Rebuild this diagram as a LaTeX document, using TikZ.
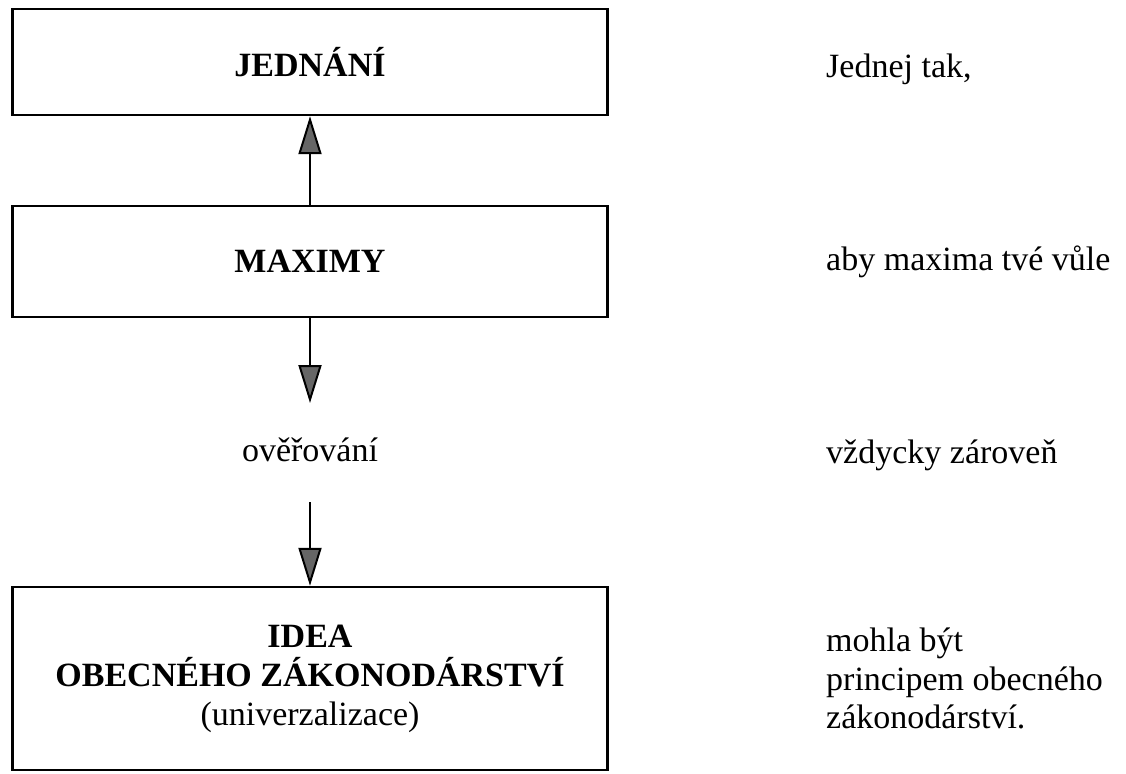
\documentclass[tikz,border=0pt]{standalone}
\usepackage{fontspec}
\setmainfont{Liberation Serif}
\usetikzlibrary{arrows.meta}
\begin{document}
\begin{tikzpicture}[x=1pt,y=-1pt,
    box/.style={draw, line width=2.4pt, minimum width=595pt, inner sep=0pt, align=center, font=\fontsize{34}{39}\selectfont\bfseries},
    txt/.style={anchor=base west, inner sep=0pt, align=left, font=\fontsize{34}{38.5}\selectfont},
    arr/.style={line width=2pt, -{Triangle[length=38pt,width=23pt,fill=black!60]}}]
        \useasboundingbox (0,0) rectangle (1126,773);
        \node [box, minimum height=106pt] (jednani) at (310,62) {JEDNÁNÍ};
        \node [box, minimum height=111pt] (maximy) at (310,261.5) {MAXIMY};
        \node [box, minimum height=183pt] (idea) at (310,678.5) {IDEA\\OBECNÉHO ZÁKONODÁRSTVÍ\\{\mdseries (univerzalizace)}};
        \node [font=\fontsize{34}{39}\selectfont, anchor=base, inner sep=0pt] (overovani) at (310,461) {ověřování};
        \coordinate (arrtip) at (310,403);
        \coordinate (arrtail) at (310,502);
        \draw [arr] (maximy) -- (jednani);
        \draw [arr] (maximy) -- (arrtip);
        \draw [arr] (arrtail) -- (idea);
        \node [txt] (jednej) at (826,78) {Jednej tak,};
        \node [txt] (maxima) at (826,270) {aby maxima tvé vůle};
        \node [txt] (zaroven) at (826,463) {vždycky zároveň};
        \node [txt, anchor=north west] (mohla) at (826,628) {mohla být\\principem obecného\\zákonodárství.};
\end{tikzpicture}
\end{document}
